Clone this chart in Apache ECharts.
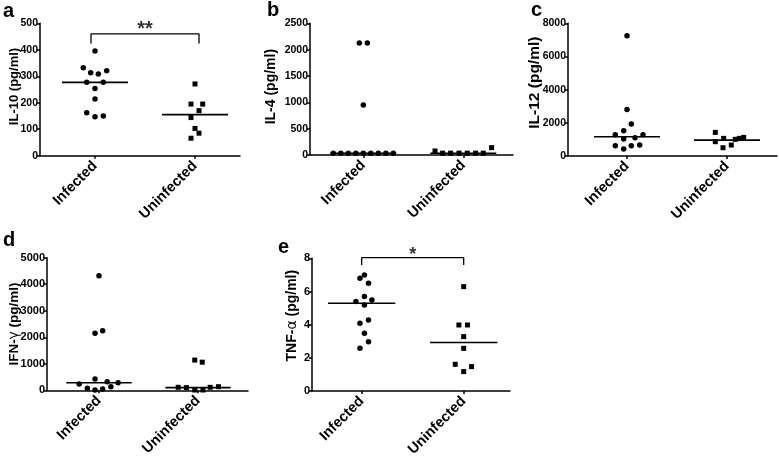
<!DOCTYPE html>
<html><head><meta charset="utf-8">
<script src="https://cdn.jsdelivr.net/npm/echarts@6/dist/echarts.min.js"></script>
<style>html,body{margin:0;padding:0;background:#fff}#c{width:779px;height:459px}</style>
</head><body><div id="c"></div>
<script>
const categories = ['Infected', 'Uninfected'];

// a: IL-10
const il10Infected = [395, 332, 313, 309, 321, 277, 277, 254, 214, 162, 147, 150];
const il10InfectedJitter = [0, -0.117, -0.043, 0.033, 0.117, -0.083, 0.083, 0, 0, -0.083, 0, 0.083];
const il10Uninfected = [271, 195, 195, 170, 144, 103, 85, 66];
const il10UninfectedJitter = [0, -0.04, 0.077, 0.04, -0.04, 0, 0.04, -0.04];
const il10Medians = [277, 155];
const il10Bracket = [424, 460];
const il10Ticks = [0, 500, 100];

// b: IL-4
const il4Infected = [2125, 2125, 950, 35, 35, 35, 35, 35, 35, 35, 35, 35];
const il4InfectedJitter = [-0.04, 0.04, 0, -0.30, -0.225, -0.15, -0.075, 0, 0.075, 0.15, 0.225, 0.30];
const il4Uninfected = [76, 35, 35, 35, 35, 35, 35, 140];
const il4UninfectedJitter = [-0.283, -0.207, -0.127, -0.043, 0.04, 0.123, 0.2, 0.283];
const il4Medians = [32, 32];
const il4Ticks = [0, 2500, 500];

// c: IL-12
const il12Infected = [7250, 2800, 1925, 1520, 1280, 1280, 1100, 1020, 660, 620, 620, 420];
const il12InfectedJitter = [0, 0, 0.043, -0.033, -0.117, 0.16, 0.08, -0.033, 0.127, -0.117, 0.043, -0.033];
const il12Uninfected = [1425, 862, 1063, 500, 662, 1003, 1063, 1123];
const il12UninfectedJitter = [-0.117, -0.117, -0.033, -0.04, 0.043, 0.083, 0.123, 0.167];
const il12Medians = [1160, 960];
const il12Ticks = [0, 8000, 2000];

// d: IFN-gamma
const ifngInfected = [4320, 2150, 2250, 430, 238, 320, 287, 75, 11, 49, 136];
const ifngInfectedJitter = [0, -0.04, 0.037, -0.04, -0.2, 0.083, 0.193, -0.117, -0.04, 0.037, 0.12];
const ifngUninfected = [1140, 1060, 113, 101, 11, 11, 113, 136];
const ifngUninfectedJitter = [-0.033, 0.043, -0.2, -0.117, -0.033, 0.05, 0.123, 0.207];
const ifngMedians = [287, 100];
const ifngTicks = [0, 5000, 1000];

// e: TNF-alpha
const tnfInfected = [7.0, 6.8, 6.5, 5.69, 5.39, 5.49, 5.19, 4.28, 4.08, 3.48, 2.97, 2.57];
const tnfInfectedJitter = [0.027, -0.017, 0.067, 0.027, -0.057, 0.1, 0.027, 0.067, -0.017, 0.027, 0.067, -0.017];
const tnfUninfected = [6.29, 3.98, 3.98, 3.28, 2.57, 1.61, 1.47, 1.17];
const tnfUninfectedJitter = [0, -0.047, 0.037, 0, 0, -0.083, 0.077, 0];
const tnfMedians = [5.29, 2.92];
const tnfBracket = [7.6, 8.04];
const tnfTicks = [0, 8, 2];

const FONT = '"Liberation Sans", Arial, sans-serif';
const HALF_W = 0.33;

const panels = [
  {letter:'a', name:'IL-10 (pg/ml)', inf:il10Infected, infJ:il10InfectedJitter, un:il10Uninfected, unJ:il10UninfectedJitter, med:il10Medians, ticks:il10Ticks, bracket:il10Bracket, stars:'**', bx:0.04,
   grid:{left:40, top:23.3, width:200, height:132.4}, xr:[-0.55, 1.45], tickFs:10.5, nameFs:13, nameGap:19, namePad:6,
   lx:3, ly:11},
  {letter:'b', name:'IL-4 (pg/ml)', inf:il4Infected, infJ:il4InfectedJitter, un:il4Uninfected, unJ:il4UninfectedJitter, med:il4Medians, ticks:il4Ticks,
   grid:{left:310, top:23.3, width:203, height:131.7}, xr:[-0.533, 1.497], tickFs:10.5, nameFs:14, nameGap:32, namePad:5,
   lx:267, ly:10},
  {letter:'c', name:'IL-12 (pg/ml)', inf:il12Infected, infJ:il12InfectedJitter, un:il12Uninfected, unJ:il12UninfectedJitter, med:il12Medians, ticks:il12Ticks,
   grid:{left:568, top:23.3, width:209, height:132.7}, xr:[-0.59, 1.5], tickFs:10.5, nameFs:15.5, nameGap:25, namePad:14,
   lx:531, ly:10},
  {letter:'d', name:'IFN-{g|γ} (pg/ml)', inf:ifngInfected, infJ:ifngInfectedJitter, un:ifngUninfected, unJ:ifngUninfectedJitter, med:ifngMedians, ticks:ifngTicks,
   grid:{left:47, top:257.7, width:201, height:132.6}, xr:[-0.525, 1.505], tickFs:11, nameFs:13.5, nameGap:26, namePad:0,
   lx:3, ly:240},
  {letter:'e', name:'TNF-{g|α} (pg/ml)', inf:tnfInfected, infJ:tnfInfectedJitter, un:tnfUninfected, unJ:tnfUninfectedJitter, med:tnfMedians, ticks:tnfTicks, bracket:tnfBracket, stars:'*', bx:0,
   grid:{left:312, top:258.3, width:198, height:132.7}, xr:[-0.487, 1.454], tickFs:11, nameFs:14, nameGap:13, namePad:18,
   lx:278, ly:247}
];

const grids = [], xAxes = [], yAxes = [], series = [], graphics = [];
const black = '#000';

panels.forEach((p, i) => {
  grids.push(Object.assign({outerBoundsMode:'none', containLabel:false}, p.grid));
  xAxes.push({
    type:'value', gridIndex:i, min:p.xr[0], max:p.xr[1],
    axisLine:{show:true, onZero:false, lineStyle:{color:black, width:1.5}},
    axisTick:{show:true, customValues:[0,1], length:3, lineStyle:{color:black, width:1.5}},
    axisLabel:{show:true, customValues:[0,1], formatter:v => categories[Math.round(v)], rotate:45, margin:8,
      fontWeight:'bold', fontSize:14.5, color:black, fontFamily:FONT},
    splitLine:{show:false}
  });
  yAxes.push({
    type:'value', gridIndex:i, min:p.ticks[0], max:p.ticks[1], interval:p.ticks[2],
    axisLine:{show:true, onZero:false, lineStyle:{color:black, width:1.5}},
    axisTick:{show:true, length:3, lineStyle:{color:black, width:1.5}},
    axisLabel:{fontWeight:'bold', fontSize:p.tickFs, color:black, fontFamily:FONT, margin:2,
      formatter:v => String(v)},
    splitLine:{show:false},
    name:p.name, nameLocation:'middle', nameGap:p.nameGap, nameMoveOverlap:false,
    nameTextStyle:{fontWeight:'bold', fontSize:p.nameFs, color:black, fontFamily:FONT, padding:[0, 0, 0, p.namePad],
      rich:{g:{fontWeight:'normal', fontSize:p.nameFs, color:black, fontFamily:'"DejaVu Sans", sans-serif'}}}
  });
  series.push({
    type:'scatter', xAxisIndex:i, yAxisIndex:i, symbol:'circle', symbolSize:5.5,
    itemStyle:{color:black, opacity:1}, data:p.inf.map((v,k) => [p.infJ[k], v]), silent:true, z:3
  });
  series.push({
    type:'scatter', xAxisIndex:i, yAxisIndex:i, symbol:'rect', symbolSize:5,
    itemStyle:{color:black, opacity:1}, data:p.un.map((v,k) => [1 + p.unJ[k], v]), silent:true, z:3
  });
  p.med.forEach((m, c) => {
    series.push({
      type:'line', xAxisIndex:i, yAxisIndex:i, symbol:'none', silent:true, z:4,
      lineStyle:{color:black, width:1.6}, data:[[c - HALF_W, m], [c + HALF_W, m]]
    });
  });
  if (p.bracket) {
    const [lo, hi] = p.bracket;
    series.push({
      type:'line', xAxisIndex:i, yAxisIndex:i, symbol:'none', silent:true, clip:false,
      lineStyle:{color:black, width:1.3},
      data:[[-p.bx, lo], [-p.bx, hi], [1 + p.bx, hi], [1 + p.bx, lo]]
    });
    series.push({
      type:'scatter', xAxisIndex:i, yAxisIndex:i, symbolSize:0, silent:true, clip:false,
      data:[[0.5, hi]],
      label:{show:true, position:'top', distance:-6, formatter:p.stars, fontWeight:'bold',
        fontSize: p.stars.length > 1 ? 20 : 18, color:black, fontFamily:FONT}
    });
  }
  graphics.push({
    type:'text', x:p.lx, y:p.ly, silent:true,
    style:{text:p.letter, fill:black, font:'bold 20px ' + FONT, verticalAlign:'middle', align:'left'}
  });
});

const chart = echarts.init(document.getElementById('c'), null, {renderer:'canvas'});
chart.setOption({
  backgroundColor:'#fff',
  animation:false,
  grid:grids, xAxis:xAxes, yAxis:yAxes, series:series, graphic:graphics
});
</script>
</body></html>
